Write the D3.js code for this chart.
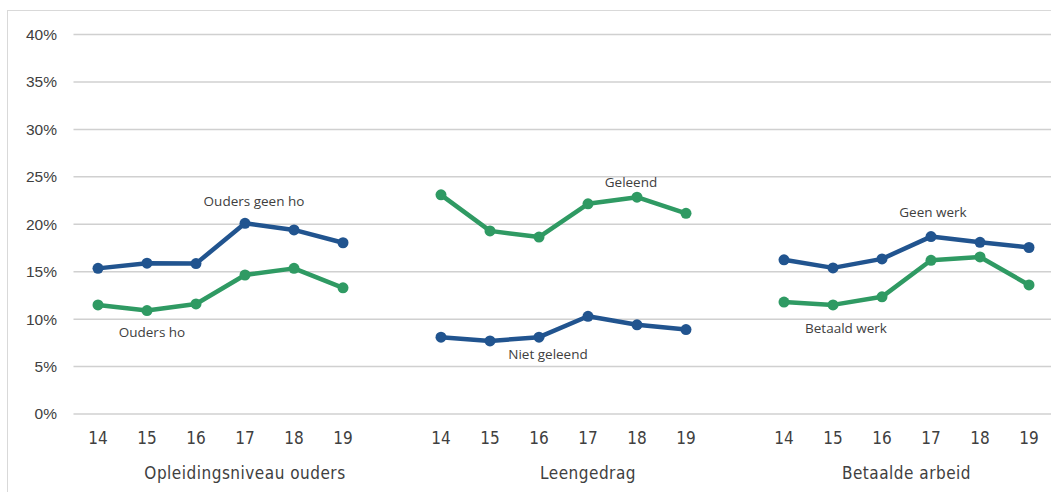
<!DOCTYPE html>
<html>
<head>
<meta charset="utf-8">
<script src="https://cdn.jsdelivr.net/npm/d3@7"></script>
<style>
  body { margin: 0; background: #fff; }
  text { fill: #404040; }
</style>
</head>
<body>
<div id="chart"></div>
<script>
// chart data
var years = ["14", "15", "16", "17", "18", "19"];
var groups = ["Opleidingsniveau ouders", "Leengedrag", "Betaalde arbeid"];
var yTicks = [0, 5, 10, 15, 20, 25, 30, 35, 40];

// blue series (per group)
var oudersGeenHo = [15.35, 15.9, 15.85, 20.1, 19.4, 18.05];
var nietGeleend = [8.1, 7.7, 8.1, 10.3, 9.4, 8.9];
var geenWerk = [16.25, 15.4, 16.35, 18.7, 18.1, 17.55];

// green series (per group)
var oudersHo = [11.5, 10.9, 11.6, 14.65, 15.35, 13.3];
var geleend = [23.1, 19.3, 18.65, 22.15, 22.85, 21.15];
var betaaldWerk = [11.8, 11.5, 12.35, 16.2, 16.55, 13.6];

var seriesNames = [
	["Ouders geen ho", "Ouders ho"],
	["Niet geleend", "Geleend"],
	["Geen werk", "Betaald werk"]
];

var width = 1051, height = 492;
var blue = "#21548f", green = "#2f9a63";
var axisFont = "'DejaVu Sans Condensed', 'DejaVu Sans', sans-serif";

// slots: 6 years per group, one empty slot between groups
var slots = [];
groups.forEach(function(g, gi) {
	if (gi > 0) slots.push("gap" + gi);
	years.forEach(function(y) { slots.push(gi + "-" + y); });
});

var x = d3.scaleBand()
	.domain(slots)
	.range([73.5, 1053.5]);

var y = d3.scaleLinear()
	.domain([0, 40])
	.range([414, 34.5]);

var svg = d3.select("#chart")
	.append("svg")
	.attr("width", width)
	.attr("height", height);

// outer frame
svg.append("rect")
	.attr("x", 7.5).attr("y", 10.5)
	.attr("width", 1100).attr("height", 600)
	.attr("fill", "none")
	.attr("stroke", "#d9d9d9")
	.attr("stroke-width", 1);

// gridlines
svg.append("g")
	.selectAll("line")
	.data(yTicks)
	.enter()
	.append("line")
	.attr("x1", 73.5)
	.attr("x2", width)
	.attr("y1", function(d) { return y(d); })
	.attr("y2", function(d) { return y(d); })
	.attr("stroke", "#d0d0d0")
	.attr("stroke-width", 1.5);

// y axis labels
svg.append("g")
	.selectAll("text")
	.data(yTicks)
	.enter()
	.append("text")
	.attr("x", 57)
	.attr("y", function(d) { return y(d); })
	.attr("dy", "0.35em")
	.attr("text-anchor", "end")
	.style("font-family", "'Liberation Sans', Arial, sans-serif")
	.style("font-size", "15.5px")
	.text(function(d) { return d + "%"; });

// x axis tick labels
var xAxis = d3.axisBottom(x)
	.tickSize(0)
	.tickFormat(function(d) { return d.indexOf("gap") === 0 ? "" : d.split("-")[1]; });
var xg = svg.append("g")
	.attr("transform", "translate(0,414)")
	.call(xAxis);
xg.select(".domain").remove();
xg.selectAll("text")
	.attr("y", 24)
	.attr("dy", "0.35em")
	.style("font-family", axisFont)
	.style("font-size", "17px")
	.attr("fill", "#404040");

// group labels: a group spans its years plus the gap after it
function groupCenter(gi) {
	var first = x(gi + "-14");
	var last = gi < groups.length - 1 ? x("gap" + (gi + 1)) : x(gi + "-19");
	return (first + last + x.bandwidth()) / 2;
}
svg.append("g")
	.selectAll("text")
	.data(groups)
	.enter()
	.append("text")
	.attr("x", function(g, gi) { return groupCenter(gi); })
	.attr("y", 473)
	.attr("dy", "0.35em")
	.attr("text-anchor", "middle")
	.style("font-family", axisFont)
	.style("font-size", "17px")
	.style("letter-spacing", "0.5px")
	.text(function(d) { return d; });

// lines + markers
var blueData = [oudersGeenHo, nietGeleend, geenWerk];
var greenData = [oudersHo, geleend, betaaldWerk];

var line = d3.line()
	.x(function(d) { return x(d.slot) + x.bandwidth() / 2; })
	.y(function(d) { return y(d.value); });

function drawSeries(values, gi, color) {
	var pts = values.map(function(v, i) { return { slot: gi + "-" + years[i], value: v }; });
	svg.append("path")
		.datum(pts)
		.attr("d", line)
		.attr("fill", "none")
		.attr("stroke", color)
		.attr("stroke-width", 4.5)
		.attr("stroke-linejoin", "round");
	svg.append("g")
		.selectAll("circle")
		.data(pts)
		.enter()
		.append("circle")
		.attr("cx", function(d) { return x(d.slot) + x.bandwidth() / 2; })
		.attr("cy", function(d) { return y(d.value); })
		.attr("r", 5.5)
		.attr("fill", color);
}

groups.forEach(function(g, gi) {
	drawSeries(blueData[gi], gi, blue);
	drawSeries(greenData[gi], gi, green);
});

// series labels, placed relative to one point of their series
var labelSpots = [
	{ text: seriesNames[0][0], slot: "0-17", yv: 20.1, dx: 9, dy: -22 },
	{ text: seriesNames[0][1], slot: "0-15", yv: 10.9, dx: 5, dy: 22 },
	{ text: seriesNames[1][0], slot: "1-16", yv: 8.1, dx: 9, dy: 17 },
	{ text: seriesNames[1][1], slot: "1-18", yv: 22.85, dx: -6, dy: -15 },
	{ text: seriesNames[2][0], slot: "2-17", yv: 18.7, dx: 2, dy: -24 },
	{ text: seriesNames[2][1], slot: "2-15", yv: 11.5, dx: 13, dy: 23 }
];
svg.append("g")
	.selectAll("text")
	.data(labelSpots)
	.enter()
	.append("text")
	.attr("x", function(d) { return x(d.slot) + x.bandwidth() / 2 + d.dx; })
	.attr("y", function(d) { return y(d.yv) + d.dy; })
	.attr("dy", "0.35em")
	.attr("text-anchor", "middle")
	.style("font-family", "'Open Sans', sans-serif")
	.style("font-size", "13.5px")
	.text(function(d) { return d.text; });
</script>
</body>
</html>
